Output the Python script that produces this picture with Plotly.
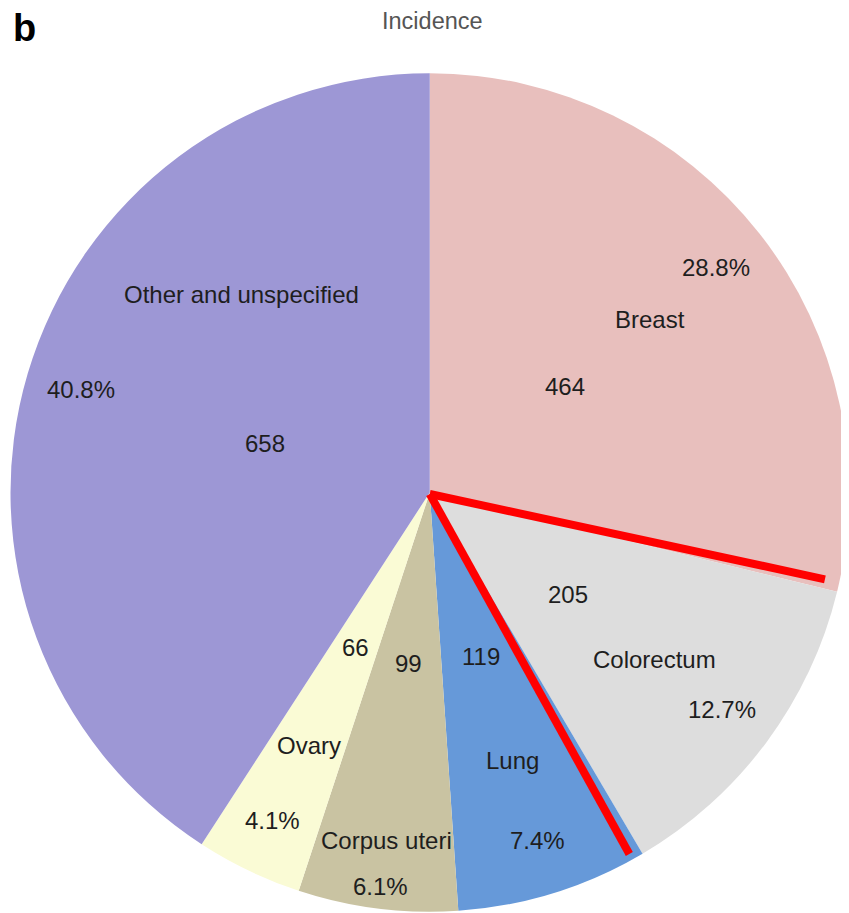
import math
import plotly.graph_objects as go

# ---- data ----
sites = ["Breast", "Colorectum", "Lung", "Corpus uteri", "Ovary", "Other and unspecified"]
cases = [464, 205, 119, 99, 66, 658]
percents = ["28.8%", "12.7%", "7.4%", "6.1%", "4.1%", "40.8%"]
colors = ["#E8BFBD", "#DDDDDD", "#6699D9", "#C9C3A2", "#FAFBD5", "#9D97D5"]
title_text = "Incidence"
panel_letter = "b"

# ---- style: label placement (fractions of the radius, angle overrides in degrees) ----
value_r = [0.41] * 6
name_r = [0.668, 0.668, 0.668, 0.837, 0.668, 0.652]
name_angle_shift = [0, 0, 0, 0, 0, 30]
pct_r = [0.868, 0.868, 0.868, 0.947, 0.868, 0.868]

# the html body has an 8px margin, so the figure is drawn 8px in from the window edge
OFF = 8
W, H = 841, 905


def win_to_paper(wx, wy):
    return (wx - OFF) / W, 1 - (wy - OFF) / H


# pie placement (window pixels): centre (430.5, 492.5), radius ~420
dom_x = [(10.5 - OFF) / W, 1.0]
dom_y = [1 - (912.5 - OFF) / H, 1 - (72.5 - OFF) / H]
dom_y = [max(0.0, dom_y[0]), min(1.0, dom_y[1])]

dw = (dom_x[1] - dom_x[0]) * W
dh = (dom_y[1] - dom_y[0]) * H
R = min(dw, dh) / 2
CX = (dom_x[0] + dom_x[1]) / 2 * W          # figure px
CY = H - (dom_y[0] + dom_y[1]) / 2 * H      # figure px from top


def to_paper(angle_deg, frac):
    a = math.radians(angle_deg)
    px = CX + frac * R * math.sin(a)
    py = CY - frac * R * math.cos(a)
    return px / W, 1 - py / H


fig = go.Figure(
    go.Pie(
        labels=sites,
        values=cases,
        sort=False,
        direction="clockwise",
        rotation=0,
        marker=dict(colors=colors, line=dict(width=0)),
        textinfo="none",
        hoverinfo="label+value+percent",
        domain=dict(x=dom_x, y=dom_y),
        showlegend=False,
    )
)

total = sum(cases)
cum = 0
annotations = []
font = dict(family="Liberation Sans, Arial, sans-serif", size=24, color="#1e1e1e")
boundaries = []
for i, v in enumerate(cases):
    start = cum / total * 360
    cum += v
    end = cum / total * 360
    boundaries.append(end)
    mid = (start + end) / 2
    for txt, fr, sh in [
        (str(v), value_r[i], 0),
        (sites[i], name_r[i], name_angle_shift[i]),
        (percents[i], pct_r[i], 0),
    ]:
        x, y = to_paper(mid + sh, fr)
        annotations.append(
            dict(x=x, y=y, xref="paper", yref="paper", text=txt, showarrow=False,
                 xanchor="center", yanchor="middle", font=font)
        )

tx, ty = win_to_paper(432, 21)
annotations.append(
    dict(x=tx, y=ty, xref="paper", yref="paper", text=title_text,
         showarrow=False, xanchor="center", yanchor="middle",
         font=dict(family="Liberation Sans, Arial, sans-serif", size=23.5, color="#555555"))
)
bx, by = win_to_paper(11, 28)
annotations.append(
    dict(x=bx, y=by, xref="paper", yref="paper", text="<b>%s</b>" % panel_letter,
         showarrow=False, xanchor="left", yanchor="middle",
         font=dict(family="Liberation Sans, Arial, sans-serif", size=38, color="#000000"))
)

# red highlight lines along the Colorectum slice boundaries
shapes = []
hl = [(boundaries[0] - 1.3, 0.965), (boundaries[1] + 1.6, 0.985)]
x0, y0 = CX / W, 1 - (CY + 1.5) / H
for ang, fr in hl:
    x1, y1 = to_paper(ang, fr)
    shapes.append(dict(type="line", xref="paper", yref="paper", x0=x0, y0=y0, x1=x1, y1=y1,
                       line=dict(color="#FF0000", width=8), layer="above"))

fig.update_layout(
    width=W,
    height=H,
    margin=dict(l=0, r=0, t=0, b=0),
    paper_bgcolor="white",
    plot_bgcolor="white",
    annotations=annotations,
    shapes=shapes,
)

fig.write_html("out.html")
